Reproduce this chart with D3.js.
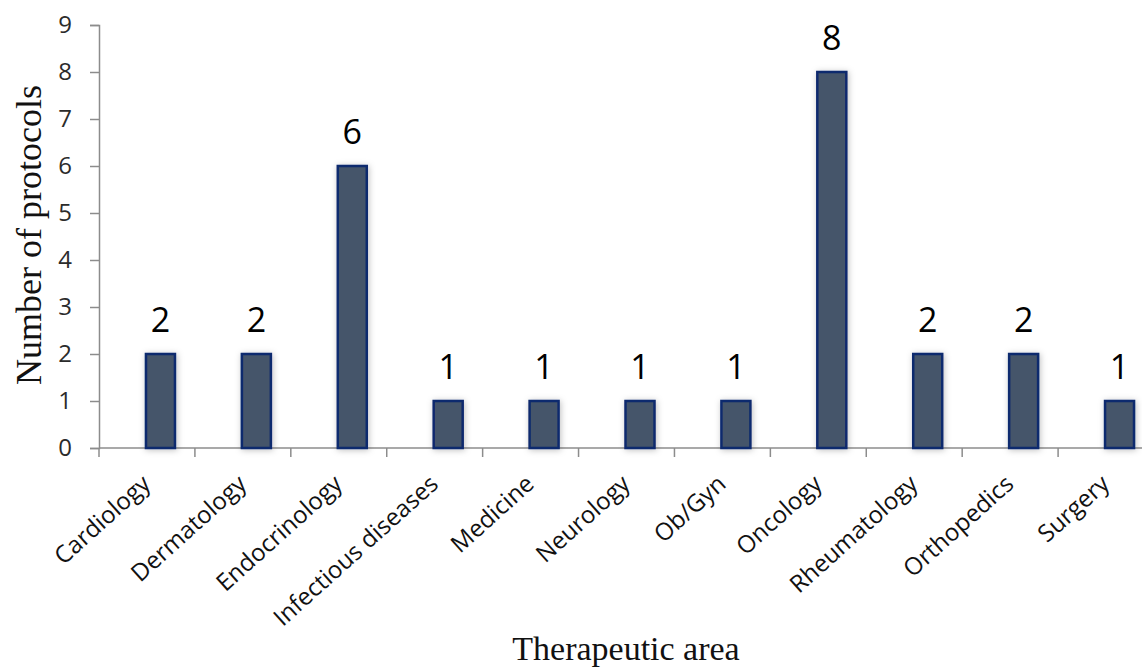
<!DOCTYPE html>
<html>
<head>
<meta charset="utf-8">
<script src="https://cdn.jsdelivr.net/npm/d3@7"></script>
<style>
  body { margin: 0; background: #fff; }
  svg { display: block; }
</style>
</head>
<body>
<svg id="chart"></svg>
<script>
// 診療領域ごとのプロトコル数
const areas = ["Cardiology", "Dermatology", "Endocrinology", "Infectious diseases", "Medicine",
  "Neurology", "Ob/Gyn", "Oncology", "Rheumatology", "Orthopedics", "Surgery"];
const protocols = [2, 2, 6, 1, 1, 1, 1, 8, 2, 2, 1];
const yTicks = [0, 1, 2, 3, 4, 5, 6, 7, 8, 9];

const width = 1142;
const height = 671;
// プロット領域 (右側は画像の外まで続く)
const plotLeft = 99, plotTop = 25, plotBottom = 448, plotRight = 1154;

const svg = d3.select("#chart").attr("width", width).attr("height", height);

const x = d3.scaleBand().domain(areas).range([plotLeft, plotRight]).padding(0);
const y = d3.scaleLinear().domain([0, 9]).range([plotBottom, plotTop]);
const step = x.step();

// Y軸
const yAxis = svg.append("g")
  .attr("transform", `translate(${plotLeft},0)`)
  .call(d3.axisLeft(y).tickValues(yTicks).tickSize(9).tickPadding(18));
yAxis.select(".domain").attr("stroke", "#8c8c8c").attr("stroke-width", 1.5);
yAxis.selectAll(".tick line").attr("stroke", "#8c8c8c").attr("stroke-width", 1.5);
yAxis.selectAll(".tick text")
  .attr("font-family", "'Open Sans', sans-serif")
  .attr("font-size", 24)
  .attr("fill", "#2b2b2b");

// X軸 (区切りに目盛り)
const xAxis = svg.append("g")
  .attr("transform", `translate(0,${plotBottom})`);
xAxis.append("line")
  .attr("x1", plotLeft).attr("x2", plotRight)
  .attr("stroke", "#8c8c8c").attr("stroke-width", 1.5);
xAxis.selectAll("line.sep")
  .data(areas)
  .enter().append("line")
  .attr("class", "sep")
  .attr("x1", d => x(d)).attr("x2", d => x(d))
  .attr("y1", 0).attr("y2", 9)
  .attr("stroke", "#8c8c8c").attr("stroke-width", 1.5);

// 棒の影
const defs = svg.append("defs");
const f = defs.append("filter").attr("id", "shadow").attr("x", "-50%").attr("y", "-20%").attr("width", "200%").attr("height", "140%");
f.append("feDropShadow").attr("dx", 1).attr("dy", 1).attr("stdDeviation", 3).attr("flood-color", "#000").attr("flood-opacity", 0.25);

const data = areas.map((a, i) => ({ area: a, value: protocols[i] }));
const barW = 29;

svg.append("g").selectAll("rect")
  .data(data)
  .enter().append("rect")
  .attr("x", d => x(d.area) + step / 2 - 1)
  .attr("y", d => y(d.value))
  .attr("width", barW)
  .attr("height", d => plotBottom - y(d.value))
  .attr("fill", "#44546a")
  .attr("stroke", "#0f2a6e")
  .attr("stroke-width", 2.5)
  .attr("filter", "url(#shadow)");

// 値ラベル
svg.append("g").selectAll("text")
  .data(data)
  .enter().append("text")
  .attr("x", d => x(d.area) + step / 2 - 1 + barW / 2)
  .attr("y", d => y(d.value) - 22)
  .attr("text-anchor", "middle")
  .attr("font-family", "'Open Sans', sans-serif")
  .attr("font-size", 34)
  .attr("fill", "#000")
  .text(d => d.value);

// カテゴリラベル (斜め)
svg.append("g").selectAll("text")
  .data(areas)
  .enter().append("text")
  .attr("transform", d => `translate(${x(d) + step / 2 + 5},${plotBottom + 38}) rotate(-42)`)
  .attr("text-anchor", "end")
  .attr("font-family", "'Open Sans', sans-serif")
  .attr("font-size", 24)
  .attr("fill", "#111")
  .text(d => d);

// 軸タイトル
svg.append("text")
  .attr("transform", "translate(41,235) rotate(-90)")
  .attr("text-anchor", "middle")
  .attr("font-family", "'Liberation Serif', 'Times New Roman', serif")
  .attr("font-size", 36)
  .attr("fill", "#111")
  .text("Number of protocols");

svg.append("text")
  .attr("x", 626)
  .attr("y", 660)
  .attr("text-anchor", "middle")
  .attr("font-family", "'Liberation Serif', 'Times New Roman', serif")
  .attr("font-size", 34)
  .attr("fill", "#111")
  .text("Therapeutic area");
</script>
</body>
</html>
